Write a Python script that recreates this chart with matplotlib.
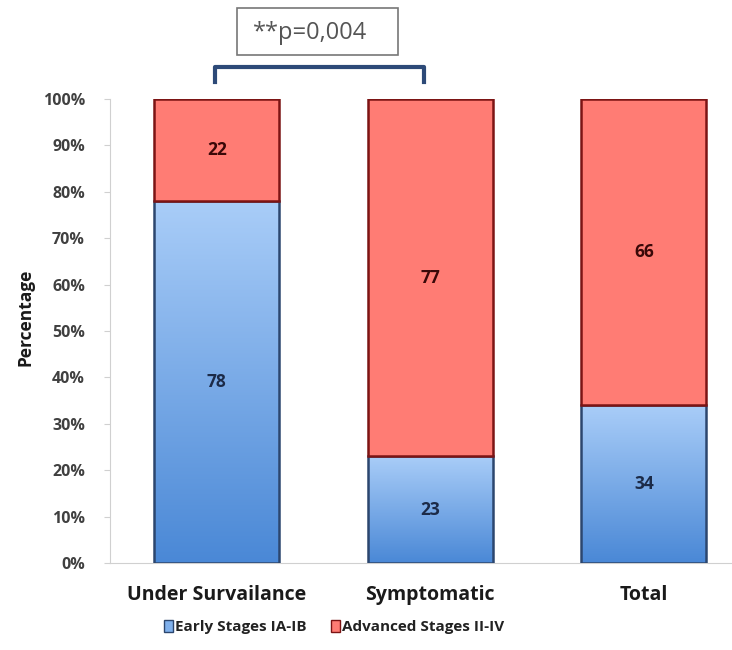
import numpy as np
import matplotlib.pyplot as plt
from matplotlib.patches import Patch, Rectangle
from matplotlib.colors import LinearSegmentedColormap

groups = ['Under Survailance', 'Symptomatic', 'Total']
early = [78, 23, 34]
advanced = [22, 77, 66]
yticks = [0, 10, 20, 30, 40, 50, 60, 70, 80, 90, 100]
p_text = '**p=0,004'

plt.rcParams['font.family'] = ['Open Sans', 'DejaVu Sans']

blue_grad = LinearSegmentedColormap.from_list('bg', ['#4a88d6', '#a9cdf8'])
blue_edge = '#2c466e'
red_face = '#ff7c74'
red_edge = '#7c1414'

W, H = 732, 650
fig = plt.figure(figsize=(W / 100, H / 100), dpi=100)
ax = fig.add_axes([110 / W, 87 / H, 1 - 110 / W, 464 / H])

x = np.arange(len(groups))
width = 0.585

# lower segments: gradient fill clipped to each bar
grad = np.linspace(0, 1, 256).reshape(-1, 1)
bars = ax.bar(x, early, width, facecolor='none', edgecolor=blue_edge, linewidth=1.8, zorder=3)
for b in bars:
    x0, y0 = b.get_x(), b.get_y()
    w, h = b.get_width(), b.get_height()
    clip = Rectangle((x0, y0), w, h, transform=ax.transData)
    im = ax.imshow(grad, extent=[x0, x0 + w, y0, y0 + h], origin='lower',
                   cmap=blue_grad, aspect='auto', zorder=2)
    im.set_clip_path(clip)

ax.bar(x, advanced, width, bottom=early, color=red_face, edgecolor=red_edge,
       linewidth=1.8, zorder=3)

for i in x:
    ax.text(i, early[i] / 2, str(early[i]), ha='center', va='center',
            fontsize=12.5, fontweight='bold', color='#1c2b48', zorder=4)
    ax.text(i, early[i] + advanced[i] / 2, str(advanced[i]), ha='center', va='center',
            fontsize=12.5, fontweight='bold', color='#3a0808', zorder=4)

ax.set_xlim(-0.5, 2.413)
ax.set_ylim(0, 100)
ax.set_yticks(yticks)
ax.set_yticklabels([f'{t}%' for t in yticks], fontsize=11.5, fontweight='bold', color='#404040')
ax.set_xticks(x)
ax.set_xticklabels(groups, fontsize=14, fontweight='bold', color='#1a1a1a')
ax.tick_params(axis='x', length=0, pad=16)
ax.tick_params(axis='y', length=4, color='#d0d0d0', pad=14)
for s in ['top', 'right']:
    ax.spines[s].set_visible(False)
for s in ['left', 'bottom']:
    ax.spines[s].set_color('#d0d0d0')
ax.set_ylabel('Percentage', fontsize=12.5, fontweight='bold', color='#1a1a1a')
ax.yaxis.set_label_coords(-(110 - 35) / 622, 0.53)

# significance bracket between first two groups
bx0, bx1 = -0.01, 0.97
ax.plot([bx0, bx0, bx1, bx1], [103.7, 106.9, 106.9, 103.7], color='#2d4a78',
        linewidth=3, solid_joinstyle='round', clip_on=False)
fig.patches.append(Rectangle((237 / W, 1 - 55 / H), 161 / W, 47 / H, transform=fig.transFigure,
                             facecolor='white', edgecolor='#777777', linewidth=1.2))
fig.text(310 / W, 1 - 33 / H, p_text, ha='center', va='center', fontsize=17, color='#555555')

handles = [Patch(facecolor='#7fb0ec', edgecolor=blue_edge, label='Early Stages IA-IB'),
           Patch(facecolor=red_face, edgecolor=red_edge, label='Advanced Stages II-IV')]
leg = fig.legend(handles=handles, loc='center', bbox_to_anchor=(334 / W, 1 - 627 / H),
                 ncol=2, frameon=False, handlelength=0.6, handleheight=0.8,
                 handletextpad=0.15, columnspacing=1.6,
                 prop={'size': 11, 'weight': 'bold'})
for t in leg.get_texts():
    t.set_color('#222222')

fig.savefig('out.png', dpi=100)
